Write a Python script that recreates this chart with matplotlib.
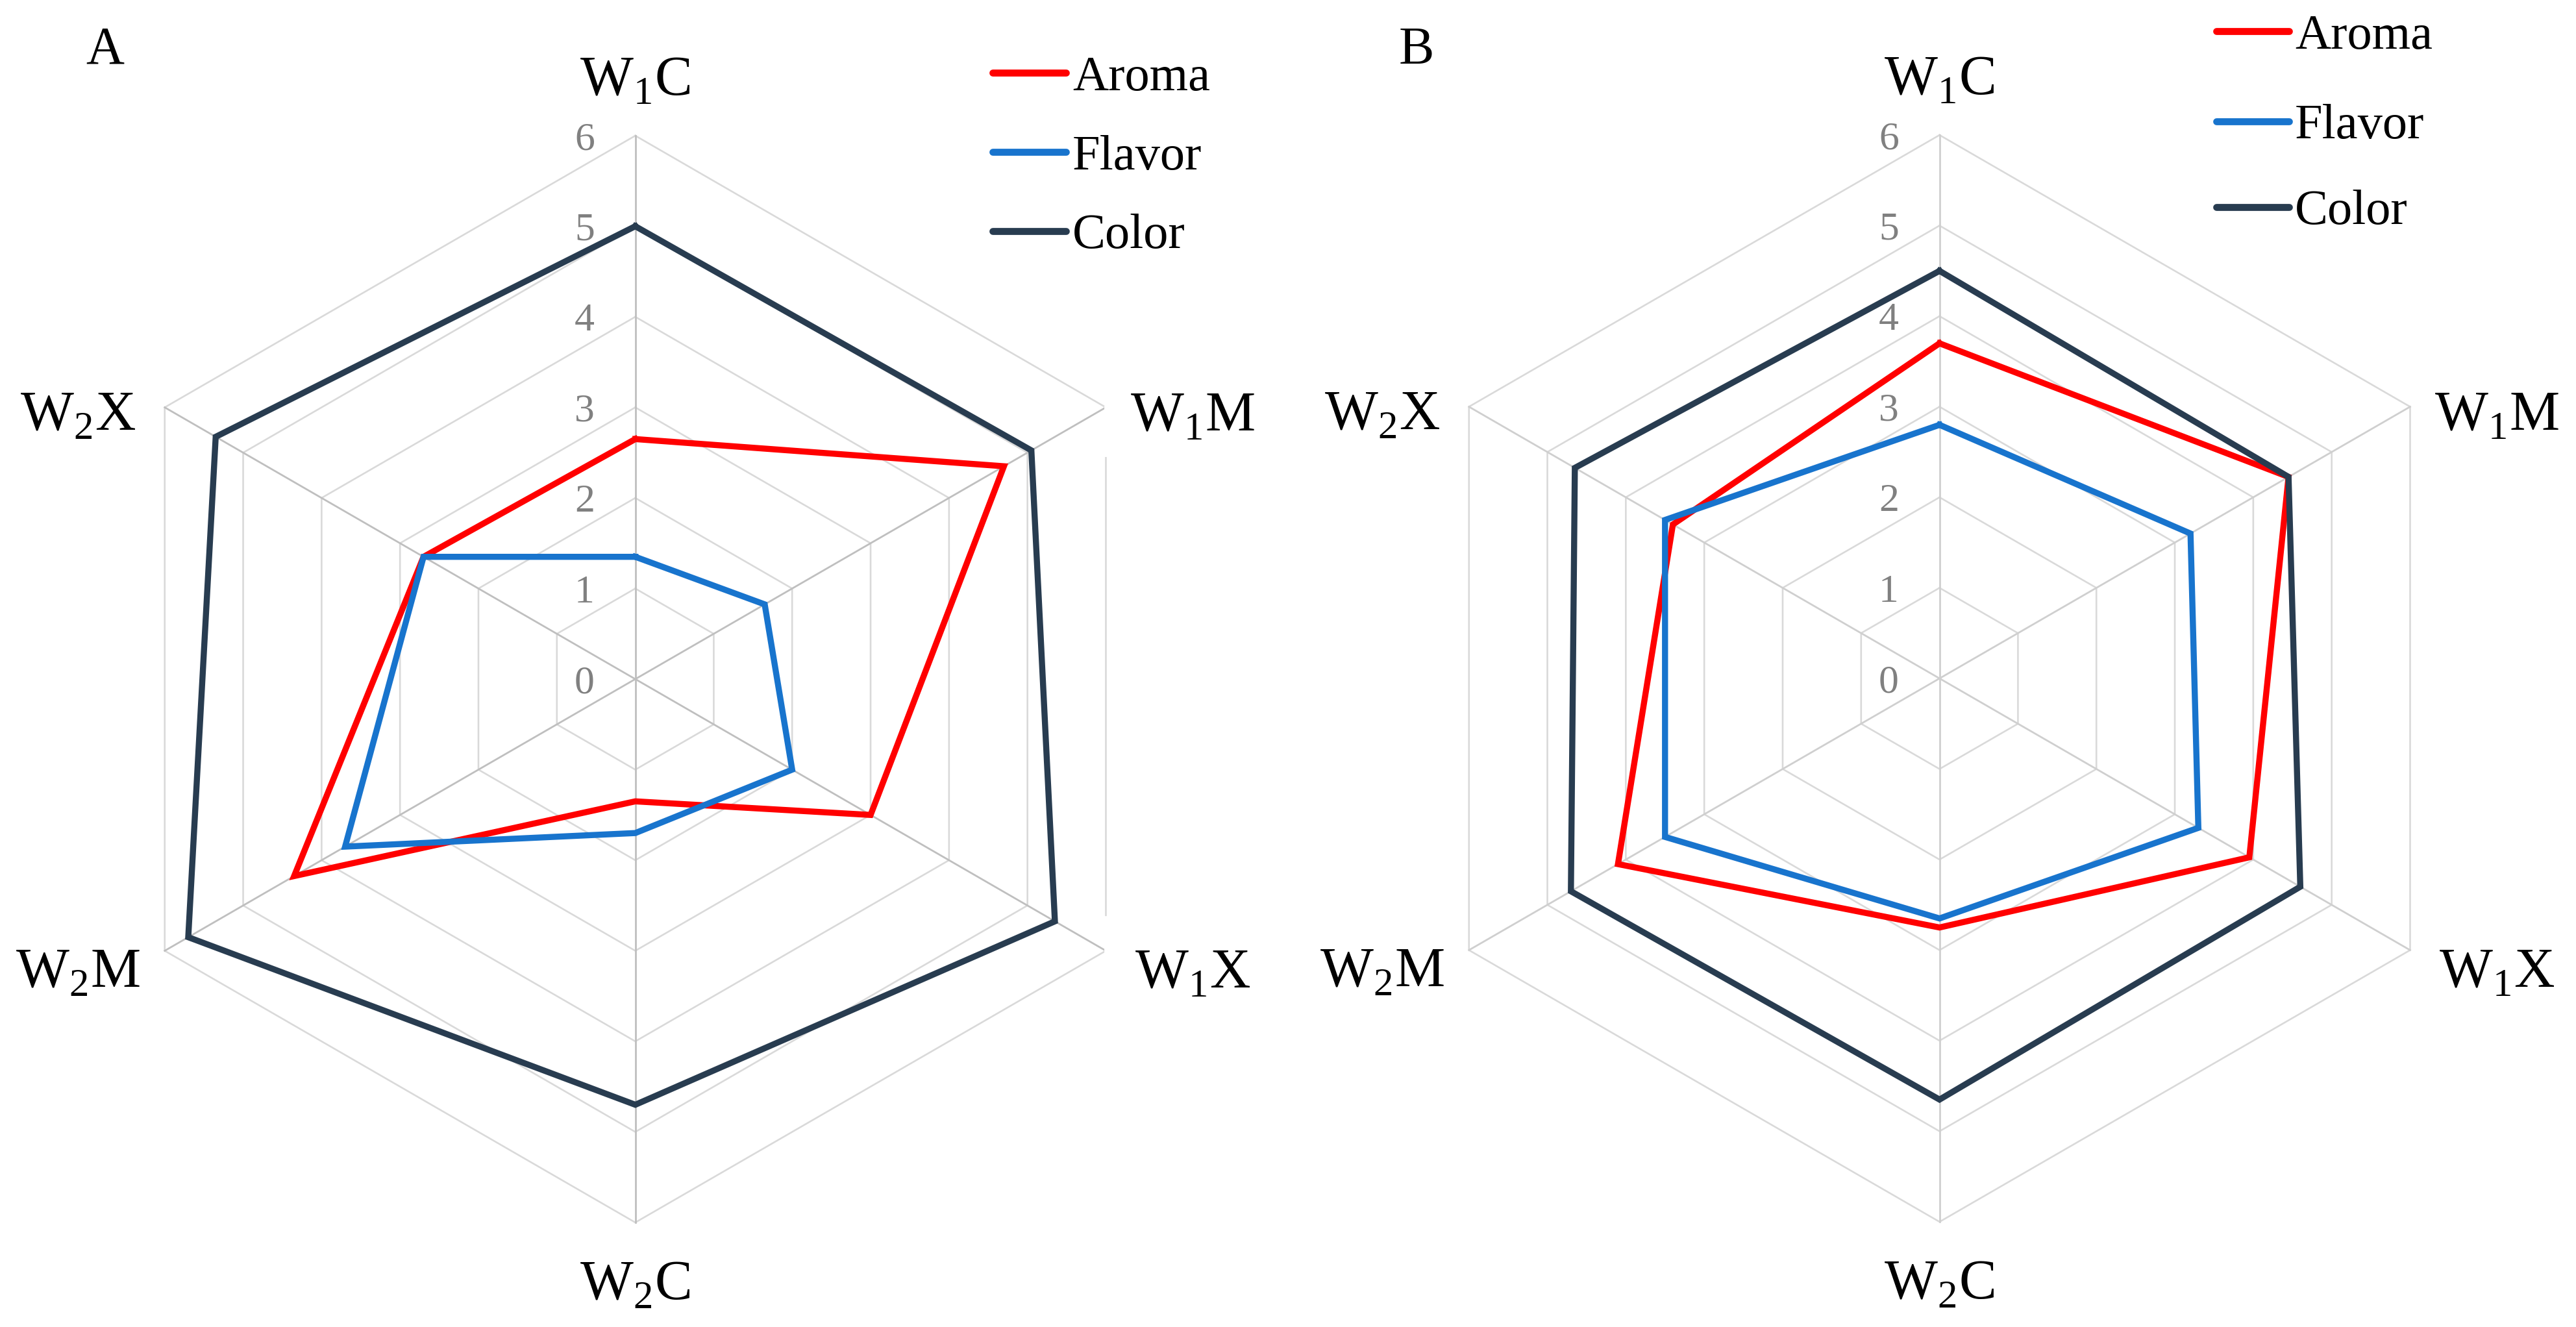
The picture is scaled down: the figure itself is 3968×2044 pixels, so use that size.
import numpy as np
import matplotlib
matplotlib.use("Agg")
import matplotlib.pyplot as plt
from matplotlib.lines import Line2D

plt.rcParams["font.family"] = ["Liberation Serif", "DejaVu Serif"]
plt.rcParams["mathtext.fontset"] = "custom"
plt.rcParams["mathtext.rm"] = "Liberation Serif"

# categories clockwise from the top
categories = [r"W$_\mathregular{1}$C", r"W$_\mathregular{1}$M", r"W$_\mathregular{1}$X",
              r"W$_\mathregular{2}$C", r"W$_\mathregular{2}$M", r"W$_\mathregular{2}$X"]
ticks = [0, 1, 2, 3, 4, 5, 6]
series_names = ["Aroma", "Flavor", "Color"]
series_colors = ["#ff0000", "#1874cd", "#283c50"]

# panel A
aroma_a = [2.65, 4.7, 3.0, 1.35, 4.35, 2.7]
flavor_a = [1.35, 1.65, 2.0, 1.7, 3.7, 2.7]
color_a = [5.0, 5.05, 5.35, 4.7, 5.7, 5.35]
# panel B
aroma_b = [3.7, 4.45, 3.95, 2.75, 4.1, 3.4]
flavor_b = [2.8, 3.2, 3.3, 2.65, 3.5, 3.5]
color_b = [4.5, 4.45, 4.6, 4.65, 4.7, 4.65]

W, H, DPI = 3968, 2044, 250
U = 139.5  # pixels per unit of score

fig = plt.figure(figsize=(W / DPI, H / DPI), dpi=DPI)
phi = np.deg2rad(np.arange(len(categories)) * 60.0)


def xy(r):
    r = np.asarray(r, dtype=float)
    x, y = r * np.sin(phi), r * np.cos(phi)
    return np.append(x, x[0]), np.append(y, y[0])


def radar(x0, x1, cx, cy, data, letter, leg, spoke_col, edge_gap=None):
    ax = fig.add_axes([x0 / W, 0, (x1 - x0) / W, 1])
    ax.set_xlim((x0 - cx) / U, (x1 - cx) / U)
    ax.set_ylim((cy - H) / U, cy / U)
    ax.axis("off")
    rmax = ticks[-1]
    for t in ticks[1:]:
        gx, gy = xy([t] * len(categories))
        ax.plot(gx, gy, color="#d9d9d9", lw=0.75, zorder=1)
    for p in phi:
        ax.plot([0, rmax * np.sin(p)], [0, rmax * np.cos(p)], color=spoke_col, lw=0.8, zorder=1.5)
    if edge_gap:
        ex = rmax * np.sin(phi[1])
        ey = rmax * np.cos(phi[1])
        ax.plot([ex, ex], [ey, ey - edge_gap[0]], color="white", lw=1.4, zorder=1.8)
        ax.plot([ex, ex], [-ey, -ey + edge_gap[1]], color="white", lw=1.4, zorder=1.8)
    for t in ticks:
        ax.text(-0.45, t, str(t), ha="right", va="center_baseline", fontsize=17.8,
                color="#808080", zorder=2)
    for vals, c in zip(data, series_colors):
        sx, sy = xy(vals)
        ax.plot(sx, sy, color=c, lw=2.7, solid_joinstyle="miter", zorder=3)
    # category labels
    for lab, p in zip(categories, phi):
        s, c = np.sin(p), np.cos(p)
        if abs(s) < 1e-6:
            lx, ly = 0, rmax * c + (0.6 if c > 0 else -0.7)
        else:
            lx = rmax * s + 0.96 * np.sign(s)
            ly = rmax * c + (-0.1 if c > 0 else -0.25)
        ax.text(lx, ly, lab, ha="center", va="center", fontsize=25, zorder=4)
    # panel letter
    fig.text(letter[1] / W, 1 - letter[2] / H, letter[0], ha="center",
             va="center_baseline", fontsize=23.5)
    # legend
    lx0, lx1, tx, ys = leg
    for name, c, yy in zip(series_names, series_colors, ys):
        fig.add_artist(Line2D([lx0 / W, lx1 / W], [1 - yy / H, 1 - yy / H], color=c,
                              lw=3.1, solid_capstyle="round", transform=fig.transFigure))
        fig.text(tx / W, 1 - yy / H, name, ha="left", va="center_baseline", fontsize=22)
    return ax


radar(0, 1984, 978.6, 1046, [aroma_a, flavor_a, color_a], ("A", 162, 69),
      (1529, 1642, 1652, [112, 234, 356]), "#bfbfbf", edge_gap=(0.53, 0.37))
radar(1984, 3968, 2987.6, 1045, [aroma_b, flavor_b, color_b], ("B", 2182, 69),
      (3414, 3526, 3535, [48, 187, 319]), "#cfcfcf")

fig.savefig("out.png", dpi=DPI, facecolor="white")
print("wrote out.png")
